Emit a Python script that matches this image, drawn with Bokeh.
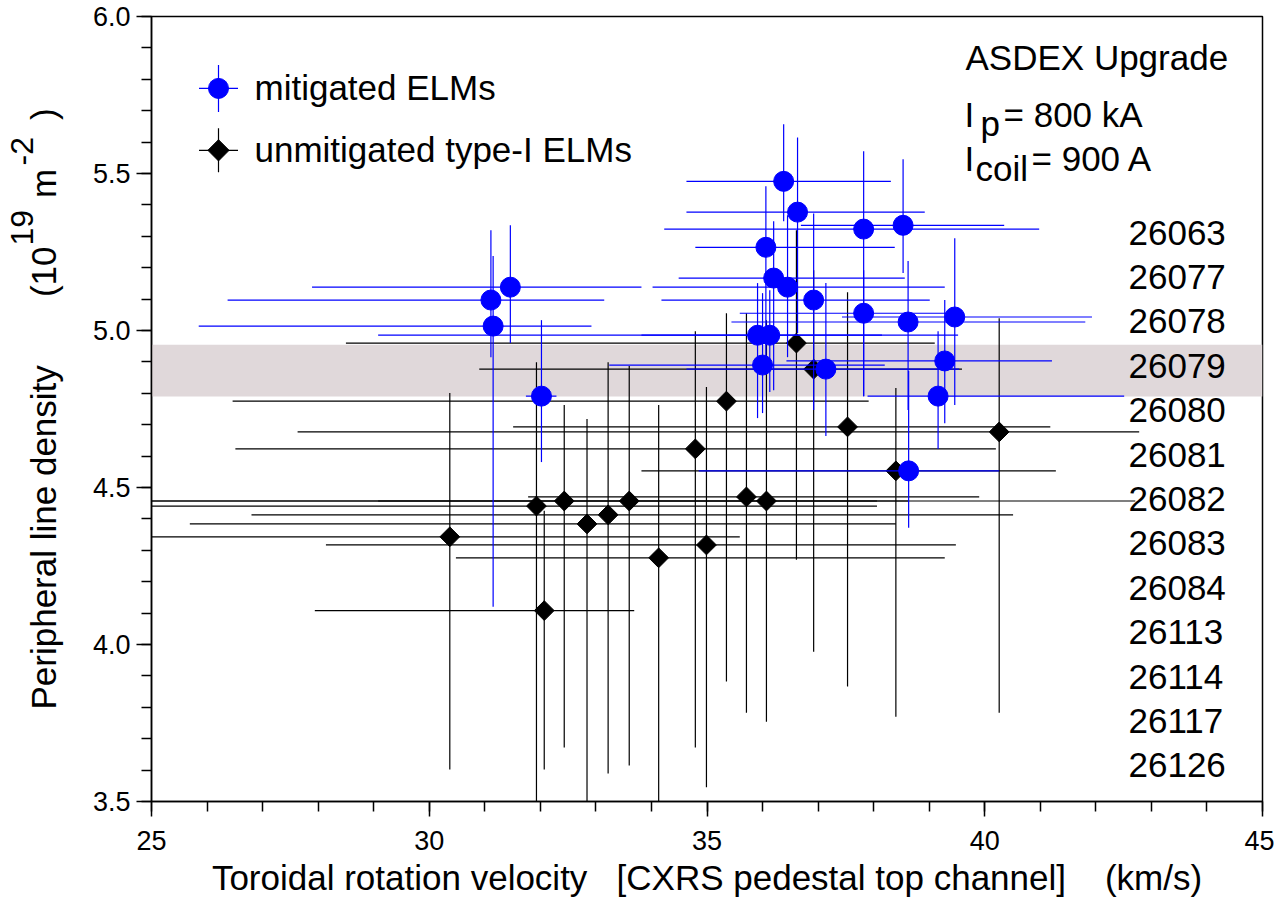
import math
from bokeh.plotting import figure
from bokeh.models import (Range1d, SingleIntervalTicker, PrintfTickFormatter, FixedTicker,
                          LinearAxis, Label, BoxAnnotation, ColumnDataSource)
from bokeh.embed import file_html
from bokeh.resources import INLINE

# ---------------- data ----------------
# mitigated ELMs (blue): toroidal velocity (km/s), peripheral density (1e19 m^-2)
mit_v = [31.11, 31.15, 31.46, 32.02, 36.38, 36.63, 36.06, 36.20, 36.45, 36.92, 35.91,
         36.13, 36.00, 37.14, 37.82, 38.53, 37.82, 38.62, 39.46, 39.28, 39.16, 38.63]
mit_n = [5.097, 5.014, 5.138, 4.791, 5.475, 5.377, 5.265, 5.167, 5.138, 5.097, 4.985,
         4.985, 4.890, 4.877, 5.323, 5.335, 5.055, 5.027, 5.043, 4.903, 4.791, 4.553]
mit_v_lo = [26.37, 25.85, 27.89, 31.74, 34.63, 34.63, 34.79, 34.49, 34.02, 34.18, 29.08,
            33.82, 33.24, 34.63, 34.23, 36.69, 35.59, 35.44, 37.43, 36.43, 37.89, 34.85]
mit_v_hi = [33.15, 32.92, 33.82, 32.29, 38.31, 38.92, 38.38, 38.56, 39.28, 39.01, 38.15,
            39.52, 38.20, 39.54, 40.98, 40.35, 39.32, 41.81, 41.93, 41.21, 42.51, 40.26]
mit_n_lo = [4.915, 4.120, 4.960, 4.581, 5.348, 4.992, 4.906, 4.810, 4.915, 4.747, 4.721,
            4.804, 4.737, 4.664, 4.791, 5.183, 4.791, 4.747, 4.763, 4.705, 4.623, 4.372]
mit_n_hi = [5.319, 5.237, 5.335, 5.033, 5.657, 5.615, 5.459, 5.348, 5.367, 5.373, 5.151,
            5.128, 5.119, 5.151, 5.571, 5.545, 5.192, 5.221, 5.294, 5.097, 4.998, 4.871]

# unmitigated type-I ELMs (black)
unm_v = [30.37, 31.93, 32.07, 32.43, 32.84, 33.22, 33.60, 34.13, 34.79, 34.99, 35.35,
         35.71, 36.07, 36.61, 36.92, 37.53, 38.40, 40.26]
unm_n = [4.343, 4.441, 4.108, 4.457, 4.384, 4.413, 4.457, 4.276, 4.623, 4.317, 4.775,
         4.470, 4.457, 4.960, 4.877, 4.693, 4.553, 4.677]
unm_v_lo = [24.80, 24.80, 27.94, 24.80, 25.69, 26.80, 24.80, 30.48, 26.51, 28.14, 26.46,
            31.78, 29.08, 28.50, 30.90, 31.51, 33.82, 27.63]
unm_v_hi = [35.59, 38.06, 33.69, 38.06, 38.40, 40.51, 38.62, 39.28, 40.20, 39.48, 37.91,
            39.90, 42.71, 39.10, 39.59, 41.18, 41.28, 42.78]
unm_n_lo = [3.602, 3.475, 3.602, 3.672, 3.475, 3.589, 3.615, 3.475, 3.672, 3.545, 3.882,
            3.783, 3.754, 4.270, 3.977, 3.866, 3.770, 3.783]
unm_n_hi = [4.801, 4.899, 4.426, 4.763, 4.718, 4.899, 4.887, 4.763, 4.998, 4.820, 5.055,
            5.055, 5.033, 5.319, 5.192, 5.122, 4.817, 5.039]

shots = ["26063", "26077", "26078", "26079", "26080", "26081", "26082",
         "26083", "26084", "26113", "26114", "26117", "26126"]

band_lo, band_hi = 4.79, 4.955
x_lim = (25, 45)
y_lim = (3.5, 6.0)

# ---------------- layout ----------------
W, H = 1274, 899
FL, FR, FT, FB = 151, 1262, 16, 802      # frame edges (canvas px)
FONT = "Liberation Sans"
BIG = "35px"
NB = "\u00a0"
DY = 14                                  # label baseline correction (px)

p = figure(width=W, height=H, x_range=Range1d(*x_lim), y_range=Range1d(*y_lim),
           output_backend="svg", toolbar_location=None,
           min_border_left=FL, min_border_right=W - FR,
           min_border_top=FT, min_border_bottom=H - FB)
p.background_fill_color = "white"
p.border_fill_color = "white"
p.outline_line_color = "black"
p.outline_line_width = 1.5
p.xgrid.visible = False
p.ygrid.visible = False

p.xaxis.ticker = SingleIntervalTicker(interval=5, num_minor_ticks=5)
p.yaxis.ticker = SingleIntervalTicker(interval=0.5, num_minor_ticks=5)
p.yaxis.formatter = PrintfTickFormatter(format="%.1f")
for ax in (p.xaxis[0], p.yaxis[0]):
    ax.axis_line_width = 1.5
    ax.major_tick_line_width = 1.5
    ax.minor_tick_line_width = 1.5
    ax.major_tick_in = 0
    ax.major_tick_out = 15
    ax.minor_tick_in = 0
    ax.minor_tick_out = 10
    ax.major_label_text_font = FONT
    ax.major_label_text_font_size = "27px"
    ax.major_label_text_color = "black"
    ax.axis_label_text_font = FONT
    ax.axis_label_text_font_size = BIG
    ax.axis_label_text_font_style = "normal"
    ax.axis_label_text_color = "black"
p.xaxis.major_label_standoff = 14
p.yaxis.major_label_standoff = 6

# x axis label
p.xaxis.axis_label = ("Toroidal rotation velocity" + NB * 3 +
                      "[CXRS pedestal top channel]" + NB * 4 + "(km/s)")
p.xaxis.axis_label_standoff = 5

# y axis label: main text with gaps where the superscripts go
p.yaxis.axis_label = ("Peripheral line density" + NB * 7 + "(10" + NB * 5 + "m" +
                      NB * 5 + ")")
p.yaxis.axis_label_standoff = 27

# superscripts on a label-only second axis
sup_axis = LinearAxis(ticker=FixedTicker(ticks=[]), axis_line_color=None,
                      major_tick_line_color=None, minor_tick_line_color=None,
                      major_label_text_font_size="0px",
                      major_tick_out=0, major_tick_in=0, minor_tick_out=0, minor_tick_in=0,
                      axis_label=NB * 52 + "19" + NB * 5 + "-2" + NB * 3,
                      axis_label_text_font=FONT, axis_label_text_font_size="32px",
                      axis_label_text_font_style="normal", axis_label_text_color="black",
                      axis_label_standoff=-19)
p.add_layout(sup_axis, "left")

p.add_layout(BoxAnnotation(bottom=band_lo, top=band_hi, fill_color="#e0d8da",
                           fill_alpha=1.0, line_color=None, level="underlay"))

src_u = ColumnDataSource(dict(x=unm_v, y=unm_n, xl=unm_v_lo, xh=unm_v_hi,
                              yl=unm_n_lo, yh=unm_n_hi))
src_m = ColumnDataSource(dict(x=mit_v, y=mit_n, xl=mit_v_lo, xh=mit_v_hi,
                              yl=mit_n_lo, yh=mit_n_hi))

p.segment(x0="xl", y0="y", x1="xh", y1="y", source=src_u, line_color="black", line_width=1.2)
p.segment(x0="x", y0="yl", x1="x", y1="yh", source=src_u, line_color="black", line_width=1.2)
p.scatter("x", "y", source=src_u, marker="square", size=14, angle=math.pi / 4,
          fill_color="black", line_color="black")

p.segment(x0="xl", y0="y", x1="xh", y1="y", source=src_m, line_color="#0000ff", line_width=1.2)
p.segment(x0="x", y0="yl", x1="x", y1="yh", source=src_m, line_color="#0000ff", line_width=1.2)
p.scatter("x", "y", source=src_m, marker="circle", size=20,
          fill_color="#0000ff", line_color="#0000ff")

# ---- manual legend (layout positions in canvas px converted to data) ----
PXX = (x_lim[1] - x_lim[0]) / (FR - FL)
PXY = (y_lim[1] - y_lim[0]) / (FB - FT)
def dx(px): return x_lim[0] + (px - FL) * PXX
def dy(py): return y_lim[0] + (FB - py) * PXY

def lab(text, px, py, size=BIG):
    p.add_layout(Label(x=px - FL, y=FB - py + DY, x_units="screen", y_units="screen",
                       text=text, text_font=FONT, text_font_size=size,
                       text_color="black", text_baseline="alphabetic", text_align="left"))

leg_x = 218
leg_rows = [(88, "#0000ff", "circle", 20, 0.0, 19.5, 23.5, "mitigated ELMs"),
            (150, "black", "square", 15, math.pi / 4, 19.5, 22.0, "unmitigated type-I ELMs")]
for (ly, col, mk, sz, ang, hw, hh, txt) in leg_rows:
    p.segment(x0=[dx(leg_x - hw)], y0=[dy(ly)], x1=[dx(leg_x + hw)], y1=[dy(ly)],
              line_color=col, line_width=1.2)
    p.segment(x0=[dx(leg_x)], y0=[dy(ly - hh)], x1=[dx(leg_x)], y1=[dy(ly + hh)],
              line_color=col, line_width=1.2)
    p.scatter(x=[dx(leg_x)], y=[dy(ly)], marker=mk, size=sz, angle=ang,
              fill_color=col, line_color=col)
    lab(txt, 254, ly + 14)

# annotations top right
lab("ASDEX Upgrade", 965, 72)
lab("I", 964, 129)
lab("p", 980, 138)
lab("= 800 kA", 1003, 129)
lab("I", 964, 173)
lab("coil", 975, 183)
lab("= 900 A", 1031, 173)

# shot numbers
for i, s in enumerate(shots):
    lab(s, 1128, 247 + i * 44.4)

html = file_html(p, INLINE, title="ASDEX Upgrade ELM mitigation")
with open("out.html", "w") as f:
    f.write(html)
